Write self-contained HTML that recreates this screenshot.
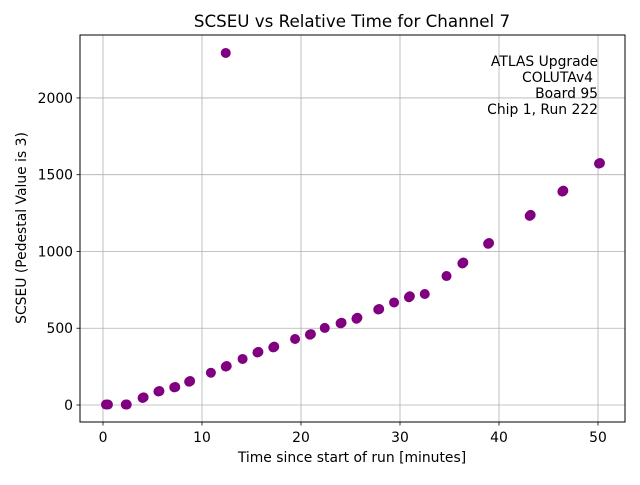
<!DOCTYPE html>
<html><head><meta charset="utf-8"><style>
body{margin:0;background:#fff;}
svg text{font-family:"DejaVu Sans","Liberation Sans",sans-serif;}
</style></head><body>
<svg id="chart" width="640" height="480" viewBox="0 0 640 480">
<rect width="640" height="480" fill="#fff"/>
<text x="352" y="27" text-anchor="middle" font-size="16.7">SCSEU vs Relative Time for Channel 7</text>
<g id="grid"></g>
<g id="marks"></g>
<rect x="80" y="35" width="545" height="387" fill="none" stroke="#000" stroke-width="1"/>
<g id="ticks"></g>
<text x="352" y="462" text-anchor="middle" font-size="13.9">Time since start of run [minutes]</text>
<text transform="translate(26,228) rotate(-90)" text-anchor="middle" font-size="13.9">SCSEU (Pedestal Value is 3)</text>
<g font-size="13.9" text-anchor="end">
<text x="598" y="66">ATLAS Upgrade</text>
<text x="593" y="82">COLUTAv4</text>
<text x="598" y="98">Board 95</text>
<text x="598" y="114">Chip 1, Run 222</text>
</g>
</svg>
<script>
const timeMin = [0.3,0.5,2.3,2.4,4.0,4.1,5.6,5.7,7.2,7.3,8.7,8.8,10.9,12.4,12.5,14.1,15.6,15.7,17.2,17.3,19.4,20.9,21.0,22.4,24.0,24.1,25.6,25.7,27.8,27.9,29.4,30.9,31.0,32.5,34.7,36.3,36.4,38.9,39.0,43.1,43.2,46.4,46.5,50.1,50.2,12.4];
const scseu = [3,3,3,3,46,50,88,91,115,117,152,156,210,250,254,300,342,346,375,380,430,458,462,502,532,536,562,568,622,625,668,702,708,723,840,922,928,1050,1055,1232,1238,1390,1396,1572,1576,2293];
const xTicks = [0,10,20,30,40,50];
const yTicks = [0,500,1000,1500,2000];
const NS='http://www.w3.org/2000/svg';
const xS = v => 103 + v*9.9;
const yS = v => 405 - v*0.15353;
const grid=document.getElementById('grid'), ticks=document.getElementById('ticks'), marks=document.getElementById('marks');
function mk(tag, attrs, parent){const e=document.createElementNS(NS,tag);for(const k in attrs)e.setAttribute(k,attrs[k]);parent.appendChild(e);return e;}
xTicks.forEach(t=>{
  const x=xS(t);
  const g=mk('line',{x1:x,x2:x,y1:35,y2:422,stroke:'#b0b0b0','stroke-width':0.8},grid);
  
  
  const tk=mk('line',{x1:x,x2:x,y1:422,y2:425.5,stroke:'#000','stroke-width':0.8},ticks);
  
  
  const l=mk('text',{x:x,y:442,'text-anchor':'middle','font-size':13.9},ticks);
  l.textContent=t;
  
  
});
yTicks.forEach(t=>{
  const y=yS(t);
  const g=mk('line',{x1:80,x2:625,y1:y,y2:y,stroke:'#b0b0b0','stroke-width':0.8},grid);
  
  
  const tk=mk('line',{x1:76.5,x2:80,y1:y,y2:y,stroke:'#000','stroke-width':0.8},ticks);
  
  
  const l=mk('text',{x:73,y:y+5,'text-anchor':'end','font-size':13.9},ticks);
  l.textContent=t;
  
  
});
timeMin.forEach((t,i)=>{
  const c=mk('circle',{cx:xS(t),cy:yS(scseu[i]),r:5,fill:'#800080'},marks);
  
  
});
</script>
</body></html>
